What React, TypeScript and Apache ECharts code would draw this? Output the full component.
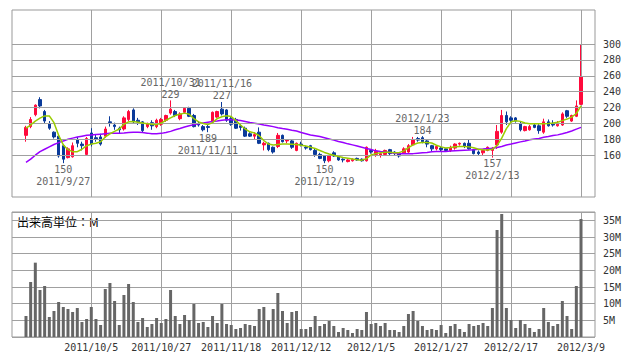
import React, { useEffect, useRef } from "react";
import * as echarts from "echarts";

// ---- data ----
const dates = [
  "2011/9/13", "2011/9/14", "2011/9/15", "2011/9/16", "2011/9/20", "2011/9/21", "2011/9/22", "2011/9/26", "2011/9/27", "2011/9/28", "2011/9/29", "2011/9/30",
  "2011/10/3", "2011/10/4", "2011/10/5", "2011/10/6", "2011/10/7", "2011/10/11", "2011/10/12", "2011/10/13", "2011/10/14", "2011/10/17", "2011/10/18", "2011/10/19", "2011/10/20", "2011/10/21", "2011/10/24", "2011/10/25", "2011/10/26", "2011/10/27", "2011/10/28", "2011/10/31",
  "2011/11/1", "2011/11/2", "2011/11/4", "2011/11/7", "2011/11/8", "2011/11/9", "2011/11/10", "2011/11/11", "2011/11/14", "2011/11/15", "2011/11/16", "2011/11/17", "2011/11/18", "2011/11/21", "2011/11/22", "2011/11/24", "2011/11/25", "2011/11/28", "2011/11/29", "2011/11/30",
  "2011/12/1", "2011/12/2", "2011/12/5", "2011/12/6", "2011/12/7", "2011/12/8", "2011/12/9", "2011/12/12", "2011/12/13", "2011/12/14", "2011/12/15", "2011/12/16", "2011/12/19", "2011/12/20", "2011/12/21", "2011/12/22", "2011/12/26", "2011/12/27", "2011/12/28", "2011/12/29", "2011/12/30",
  "2012/1/4", "2012/1/5", "2012/1/6", "2012/1/10", "2012/1/11", "2012/1/12", "2012/1/13", "2012/1/16", "2012/1/17", "2012/1/18", "2012/1/19", "2012/1/20", "2012/1/23", "2012/1/24", "2012/1/25", "2012/1/26", "2012/1/27", "2012/1/30", "2012/1/31",
  "2012/2/1", "2012/2/2", "2012/2/3", "2012/2/6", "2012/2/7", "2012/2/8", "2012/2/9", "2012/2/10", "2012/2/13", "2012/2/14", "2012/2/15", "2012/2/16", "2012/2/17", "2012/2/20", "2012/2/21", "2012/2/22", "2012/2/23", "2012/2/24", "2012/2/27", "2012/2/28", "2012/2/29",
  "2012/3/1", "2012/3/2", "2012/3/5", "2012/3/6", "2012/3/7", "2012/3/8", "2012/3/9",
];

const opens = [
  185, 196, 211, 230, 215, 200, 189, 184, 172, 157, 158, 180,
  174, 161, 188, 182, 183, 184, 202, 198, 194, 193, 205, 217, 204, 202, 196, 201, 196, 199, 204, 213,
  215, 206, 214, 219, 210, 200, 196, 196, 202, 208, 218, 217, 206, 205, 197, 194, 187, 184, 189, 173,
  175, 170, 171, 185, 178, 178, 166, 174, 170, 172, 166, 161, 159, 153, 163, 158, 155, 152, 153, 156, 155,
  153, 166, 161, 160, 161, 167, 164, 162, 163, 164, 173, 181, 182, 178, 172, 168, 169, 168, 166,
  169, 174, 175, 175, 167, 164, 163, 166, 166, 173, 189, 210, 207, 207, 200, 191, 192, 198, 197, 189, 202,
  199, 197, 198, 216, 203, 209, 224,
];
const highs = [
  197, 208, 224, 233, 217, 203, 190, 186, 174, 170, 176, 183,
  177, 183, 194, 186, 187, 196, 209, 201, 196, 209, 217, 219, 207, 203, 201, 204, 206, 207, 211, 229,
  217, 214, 220, 221, 212, 203, 198, 200, 215, 216, 227, 218, 208, 207, 199, 196, 189, 189, 195, 177,
  176, 171, 188, 186, 180, 180, 176, 177, 172, 173, 168, 163, 160, 160, 165, 159, 156, 155, 156, 157, 156,
  171, 167, 168, 164, 167, 168, 165, 164, 170, 174, 183, 183, 184, 180, 173, 172, 171, 169, 172,
  175, 176, 176, 180, 168, 166, 168, 171, 170, 198, 217, 215, 209, 208, 202, 197, 198, 200, 199, 206, 205,
  204, 203, 214, 217, 211, 229, 300,
];
const lows = [
  177, 194, 209, 219, 200, 192, 181, 157, 150, 156, 157, 170,
  166, 160, 171, 177, 172, 182, 196, 192, 188, 191, 203, 200, 198, 189, 194, 192, 194, 197, 202, 211,
  208, 204, 212, 208, 195, 196, 190, 189, 200, 207, 210, 202, 197, 193, 191, 183, 183, 180, 174, 166,
  165, 162, 169, 176, 175, 168, 165, 171, 167, 166, 158, 155, 150, 151, 158, 153, 151, 151, 152, 153, 152,
  152, 162, 158, 157, 160, 160, 160, 157, 162, 163, 172, 177, 175, 170, 165, 166, 165, 165, 164,
  167, 172, 169, 167, 161, 160, 159, 165, 157, 168, 187, 198, 199, 201, 190, 190, 191, 194, 187, 187, 196,
  196, 196, 197, 207, 202, 208, 223,
];
const closes = [
  195, 205, 223, 222, 203, 194, 183, 159, 155, 168, 172, 175,
  172, 181, 174, 180, 174, 193, 201, 196, 192, 207, 215, 202, 202, 191, 200, 197, 204, 205, 210, 218,
  210, 212, 219, 209, 196, 198, 192, 195, 214, 215, 212, 204, 199, 194, 195, 184, 184, 186, 175, 175,
  167, 164, 185, 177, 179, 170, 175, 173, 169, 167, 161, 156, 153, 159, 159, 154, 154, 154, 155, 154, 153,
  170, 164, 165, 162, 166, 162, 162, 159, 168, 172, 179, 179, 177, 174, 168, 171, 167, 166, 170,
  174, 175, 171, 168, 162, 162, 166, 170, 169, 190, 210, 202, 204, 203, 192, 196, 196, 195, 191, 202, 197,
  198, 199, 212, 209, 210, 222, 259,
];

const maShort = [
  194, 198, 203, 206.6, 209.5, 209.5, 201, 185, 173, 167, 164.5, 164.5,
  167.5, 172, 174, 175, 177, 183, 187, 190, 193, 199, 202, 202.4, 201.5, 200.5, 199.5, 199, 198.5, 200.5, 204, 207,
  210, 211.7, 213, 211.5, 206, 202, 200, 198.5, 201, 206, 208.5, 209.6, 208.7, 203.5, 198, 193, 189.5, 188, 184.5, 178.5,
  174, 173, 173.5, 174, 174.2, 173.8, 173.4, 172.5, 171.5, 170, 168.5, 166, 163.5, 161.5, 160, 158.3, 157.2, 156.2, 155.2, 154.3, 153.8,
  155.5, 160.4, 162, 163, 163.8, 163.6, 163, 163.2, 165.5, 169.5, 173, 175.3, 176, 176, 175.4, 172.6, 170.5, 169, 169.8,
  170.7, 170.9, 170.9, 170.5, 169.5, 167.6, 166.8, 166.7, 167.5, 172, 181.5, 193.5, 202, 203.5, 202.6, 200.5, 199.7, 199.5, 199.5, 199.5, 200,
  200.6, 201.6, 203.5, 205.5, 208, 212.5, 222.2,
];
const maLong = [
  151, 155, 160, 164.5, 167.5, 170.5, 173.5, 175.8, 178, 180, 181.5, 183,
  184, 185, 185.5, 186, 186.5, 187, 187.5, 187.7, 187.7, 188, 188.5, 189, 189, 188.5, 187.8, 187, 187, 187.5, 188.5, 190,
  192, 193.6, 195.5, 197, 198.5, 199.7, 200.7, 201.5, 202.3, 203, 204, 204.5, 204.5, 204.3, 203.6, 202.5, 201.2, 200.2, 199.2, 198,
  197, 196, 194.5, 193.5, 192.6, 191.5, 190.5, 188.5, 187, 185.5, 184.5, 183.5, 182, 180.5, 179, 177.2, 176, 174.3, 173, 171.5, 170,
  168.5, 167.2, 165.5, 164.6, 164, 163.4, 162.5, 161.8, 161.7, 161.7, 162, 162.5, 163, 163.5, 164.3, 164.6, 164.6, 164.8, 165.3,
  165.6, 165.9, 166.2, 166.5, 166.9, 167.4, 167.8, 168.3, 168.8, 169.6, 171, 172.8, 174, 175.5, 176.8, 178, 179.5, 180.5, 181, 182.5, 183.5,
  184.8, 185.6, 187, 188.5, 190.5, 192.8, 195,
];

// volume in millions
const volumes = [
  6.3, 16.5, 22.3, 14.1, 15.3, 6.0, 7.8, 10.5, 9.0, 8.4, 7.5, 8.7,
  4.5, 5.4, 9.0, 5.4, 3.6, 14.4, 16.2, 10.8, 3.6, 12.6, 15.9, 10.5, 4.5, 5.7, 3.0, 3.9, 5.7, 4.2, 5.4, 14.1,
  6.3, 3.9, 6.6, 5.1, 9.9, 4.2, 4.5, 3.0, 6.3, 4.2, 9.9, 3.9, 3.6, 2.4, 2.7, 3.9, 3.6, 3.3, 8.4, 9.0,
  5.1, 8.4, 13.2, 7.8, 4.2, 7.5, 7.8, 2.4, 2.4, 3.0, 6.3, 3.3, 3.9, 4.8, 3.3, 1.5, 2.7, 2.1, 1.2, 2.4, 2.1,
  7.5, 3.9, 4.2, 3.3, 4.2, 2.1, 2.1, 1.5, 3.3, 6.9, 7.8, 4.8, 3.3, 2.1, 2.4, 2.1, 3.6, 1.2, 3.3,
  3.9, 2.4, 1.5, 3.9, 3.3, 3.6, 4.2, 3.3, 8.7, 32.1, 36.9, 8.7, 5.1, 2.7, 5.1, 3.9, 2.7, 1.5, 2.4, 8.7, 4.5,
  3.3, 3.9, 10.8, 6.3, 2.4, 15.3, 35.4,
];

const tickDates = ["2011/10/5", "2011/10/27", "2011/11/18", "2011/12/12", "2012/1/5", "2012/1/27", "2012/2/17", "2012/3/9"];
const priceTicks = [160, 180, 200, 220, 240, 260, 280, 300];
const highMarks = [
  { date: "2011/10/31", value: 229 },
  { date: "2011/11/16", value: 227 },
  { date: "2012/1/23", value: 184 },
];
const lowMarks = [
  { date: "2011/9/27", value: 150 },
  { date: "2011/11/11", value: 189 },
  { date: "2011/12/19", value: 150 },
  { date: "2012/2/13", value: 157 },
];

// ---- layout helpers ----
const PAD_L = 3;
const PAD_R = 3;
const cats = [
  ...Array.from({ length: PAD_L }, (_, k) => "_l" + k),
  ...dates,
  ...Array.from({ length: PAD_R }, (_, k) => "_r" + k),
];
const pad = (arr: any[], empty: any) => [
  ...Array.from({ length: PAD_L }, () => empty),
  ...arr,
  ...Array.from({ length: PAD_R }, () => empty),
];
const tickSet = new Set(tickDates);

const MONO = "DejaVu Sans Mono";
const GRID_COLOR = "#a0a0a0";
const UP = "#ff0a3c";
const DOWN = "#0a3a9a";

export default function App() {
  const ref = useRef<HTMLDivElement>(null);

  useEffect(() => {
    if (!ref.current) return;
    const chart = echarts.init(ref.current, undefined, { renderer: "svg" });

    const candleData = pad(
      dates.map((_, i) => [opens[i], closes[i], lows[i], highs[i]]),
      ["-", "-", "-", "-"]
    );

    const xAxisBase = (gridIndex: number, showLabels: boolean) => ({
      type: "category",
      gridIndex,
      data: cats,
      boundaryGap: false,
      axisLine: { show: false },
      axisTick: { show: false },
      axisLabel: showLabels
        ? {
            show: true,
            interval: (_i: number, v: string) => tickSet.has(v),
            color: "#333",
            fontFamily: MONO,
            fontSize: 10,
            margin: 5,
            hideOverlap: false,
          }
        : { show: false },
      splitLine: {
        show: true,
        interval: (_i: number, v: string) => tickSet.has(v),
        lineStyle: { color: GRID_COLOR, width: 1 },
      },
    });

    const option: any = {
      animation: false,
      backgroundColor: "#ffffff",
      grid: [
        { left: 12, top: 10, width: 583, height: 187, show: true, borderColor: "#999", borderWidth: 1, backgroundColor: "transparent" },
        { left: 12, top: 212, width: 583, height: 125, show: true, borderColor: "#999", borderWidth: 1, backgroundColor: "transparent" },
      ],
      xAxis: [xAxisBase(0, false), xAxisBase(1, true)],
      yAxis: [
        {
          type: "value",
          gridIndex: 0,
          min: 107.4,
          max: 342.8,
          axisLine: { show: false },
          axisTick: { show: false },
          axisLabel: { show: false },
          splitLine: { show: false },
        },
        {
          type: "value",
          gridIndex: 1,
          position: "right",
          min: 0,
          max: 37.5,
          interval: 5,
          axisLine: { show: false },
          axisTick: { show: false },
          axisLabel: {
            formatter: (v: number) => (v > 0 && Math.abs(v % 5) < 1e-9 ? v + "M" : ""),
            color: "#333",
            fontFamily: MONO,
            fontSize: 10,
            margin: 8,
          },
          splitLine: { show: true, lineStyle: { color: GRID_COLOR, width: 1 } },
        },
      ],
      graphic: [
        {
          type: "text",
          left: 17,
          top: 215,
          silent: true,
          style: { text: "出来高単位：M", fill: "#000", font: '12px "Noto Sans CJK JP"' },
        },
      ],
      series: [
        {
          type: "line",
          xAxisIndex: 0,
          yAxisIndex: 0,
          data: cats.map(() => "-"),
          silent: true,
          z: 1,
          showSymbol: false,
          markLine: {
            silent: true,
            symbol: ["none", "none"],
            animation: false,
            lineStyle: { color: GRID_COLOR, type: "solid", width: 1 },
            label: {
              show: true,
              position: "end",
              distance: 8,
              formatter: "{c}",
              color: "#333",
              fontFamily: MONO,
              fontSize: 10,
            },
            emphasis: { disabled: true },
            data: priceTicks.map((v) => ({ yAxis: v })),
          },
        },
        {
          type: "candlestick",
          xAxisIndex: 0,
          yAxisIndex: 0,
          data: candleData,
          barWidth: 3,
          z: 3,
          itemStyle: {
            color: UP,
            color0: DOWN,
            borderColor: UP,
            borderColor0: DOWN,
            borderWidth: 1,
          },
          markPoint: {
            symbol: "circle",
            symbolSize: 0,
            silent: true,
            animation: false,
            itemStyle: { color: "transparent" },
            label: {
              show: true,
              color: "#666",
              fontFamily: MONO,
              fontSize: 10,
              lineHeight: 12,
            },
            data: [
              ...highMarks.map((m) => ({
                coord: [m.date, m.value],
                value: m.value,
                label: { position: "top", distance: 0, formatter: m.date + "\n" + m.value },
              })),
              ...lowMarks.map((m) => ({
                coord: [m.date, m.value],
                value: m.value,
                label: { position: "bottom", distance: 0, formatter: m.value + "\n" + m.date },
              })),
            ],
          },
        },
        {
          type: "line",
          xAxisIndex: 0,
          yAxisIndex: 0,
          data: pad(maLong, "-"),
          showSymbol: false,
          symbol: "none",
          z: 4,
          lineStyle: { color: "#9900ff", width: 1.5 },
        },
        {
          type: "line",
          xAxisIndex: 0,
          yAxisIndex: 0,
          data: pad(maShort, "-"),
          showSymbol: false,
          symbol: "none",
          z: 5,
          lineStyle: { color: "#99cc00", width: 1.5 },
        },
        {
          type: "bar",
          xAxisIndex: 1,
          yAxisIndex: 1,
          data: pad(volumes, "-"),
          barWidth: 3,
          itemStyle: { color: "#666666" },
          z: 3,
        },
      ],
    };

    chart.setOption(option);
    return () => chart.dispose();
  }, []);

  return (
    <div
      ref={ref}
      style={{ position: "absolute", left: 0, top: 0, width: 638, height: 362, background: "#fff" }}
    />
  );
}
